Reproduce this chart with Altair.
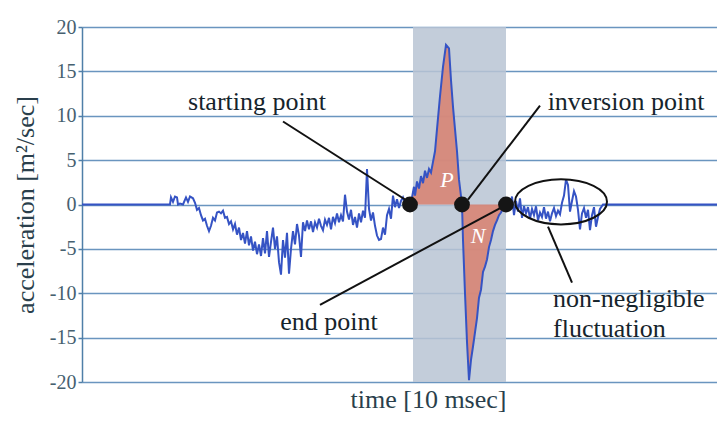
import altair as alt
import pandas as pd

# ---- data (time index, acceleration m2/sec) ----
time_idx = [82, 170, 171, 173, 175, 177, 178, 180, 183, 186, 188, 190, 193, 195, 197, 199,
            201, 203, 205, 207, 209, 211, 213, 215, 217, 219, 221, 223, 225, 227, 229, 231,
            233, 235, 237, 239, 241, 243, 245, 247, 249, 251, 253, 255, 257, 259, 261, 263,
            265, 267, 269, 271, 273, 275, 277, 279, 281, 283, 285, 287, 289, 291, 293, 295,
            297, 299, 301, 303, 305, 307, 309, 311, 313, 315, 317, 319, 321, 323, 325, 327,
            329, 331, 333, 335, 337, 339, 341, 343, 345, 347, 349, 351, 353, 355, 357, 359,
            361, 363, 365, 367, 369, 371, 373, 375, 377, 379, 381, 383, 385, 387, 389, 391,
            393, 395, 397, 399, 401, 403, 405, 407, 410,
            412, 414, 415, 417, 419, 421, 423, 425, 427, 429, 431, 433, 435, 437, 440, 443,
            446, 449, 451, 453, 455, 457, 459, 462,
            463, 465, 467, 469, 471, 473, 475, 477, 479, 481, 483, 485, 487, 489, 491, 493,
            495, 497, 499, 501, 503, 506,
            508, 510, 512, 514, 516, 518, 520, 522, 524, 526, 528, 530, 532, 534, 536, 538,
            540, 542, 544, 546, 548, 550, 552, 554, 556, 558, 560, 562, 564, 566, 568, 570,
            572, 574, 576, 578, 580, 582, 584, 586, 588, 590, 592, 594, 596, 598, 600, 603, 717]
accel = [0, 0, 0.8, 0.3, 0.9, 0.8, 0.0, 0.1, 0.0, 0.8, 0.3, 0.9, 0.7, 0.2, -0.6, -0.4,
         -1.2, -1.8, -1.6, -2.4, -3.0, -2.4, -1.5, -1.8, -0.9, -0.8, -1.0, -0.7, -1.5, -1.4, -2.2, -1.9,
         -2.8, -2.2, -3.4, -2.6, -4.0, -3.2, -4.4, -3.0, -4.6, -3.6, -5.2, -4.2, -5.6, -4.5, -5.8, -3.8,
         -5.5, -3.0, -5.9, -4.2, -2.6, -5.0, -3.6, -6.5, -7.9, -4.0, -6.0, -3.2, -7.8, -5.0, -3.0, -4.5,
         -2.2, -3.5, -5.9, -2.0, -3.0, -1.8, -2.8, -1.9, -3.1, -2.0, -2.6, -1.6, -2.4, -2.9, -1.7, -2.3,
         -1.5, -2.8, -1.4, -2.1, -1.0, -2.0, -1.2, -1.9, 1.1, -0.8, -1.7, -0.6, -2.3, -1.4, -2.6, -1.0,
         -2.0, -0.7, -1.5, 4.0, -0.5, -1.8, -0.9, -2.4, -3.5, -4.0, -3.9, -2.6, -3.4, -1.2, -0.5, -1.6,
         1.0, -0.3, 0.6, -0.4, 0.4, 0.8, 0.2, 0.5, 0.0,
         0.8, 2.0, 1.0, 2.6, 1.8, 3.2, 2.4, 3.8, 3.0, 4.0, 3.6, 4.8, 6.0, 8.5, 12.2, 15.5,
         18.0, 17.6, 14.0, 11.0, 8.5, 6.0, 2.8, 0.0,
         -4.0, -10.0, -15.5, -19.8, -17.5, -16.0, -14.4, -12.8, -10.5, -9.6, -7.6, -7.0, -6.2, -4.8, -4.0, -3.0,
         -2.3, -1.8, -1.2, -0.9, -0.4, 0.0,
         0.5, -0.6, 0.9, -1.2, 0.4, -0.8, 0.7, -1.5, -0.2, -1.0, -0.3, -1.6, -0.5, -1.2, -0.2, -1.8,
         -0.9, -1.4, -0.3, -1.6, -0.8, -1.9, -1.0, -0.4, -1.3, -0.7, -1.1, 0.2, 1.0, 2.8, 2.2, -0.8,
         0.4, 1.5, 0.9, -0.6, -2.8, -1.0, -0.4, -1.5, -0.6, -2.9, -1.2, -0.3, -2.5, -1.4, -0.5, 0.0, 0.0]

# key points: starting, inversion, end
key_t = [410, 462, 506]
key_a = [0, 0, 0]

# shaded analysis window
window_t = [413, 506]

y_ticks = [-20, -15, -10, -5, 0, 5, 10, 15, 20]

# annotation leader lines (from, to)
lead_t1 = [283, 540, 320, 548]
lead_a1 = [9.35, 11.15, -11.3, -2.5]
lead_t2 = [405, 468, 503, 572]
lead_a2 = [0.56, 0.56, -0.23, -8.8]

# annotation texts
lab_text = ["starting point", "inversion point", "end point"]
lab_t = [257, 626, 329]
lab_a = [11.5, 11.6, -13.2]
lab2_text = ["non-negligible", "fluctuation"]
lab2_t = [553, 553]
lab2_a = [-10.7, -14.0]
area_text = ["P", "N"]
area_t = [447, 478]
area_a = [2.8, -3.5]

# ellipse around fluctuation
ell_t = [561]
ell_a = [0.3]

# ---- build ----
df = pd.DataFrame({"t": time_idx, "a": accel})
xs = alt.Scale(domain=[82, 717], nice=False, zero=False)
ys = alt.Scale(domain=[-20, 20], nice=False)
FONT = "Liberation Serif"
TXT = "#16242c"

x_enc = alt.X("t:Q", scale=xs,
              axis=alt.Axis(labels=False, ticks=False, domain=False, grid=False,
                            title="time [10 msec]", titleFont=FONT, titleFontSize=26,
                            titleFontWeight="normal", titleColor="#2a3f4c", titlePadding=4,
                            titleX=346))
y_enc = alt.Y("a:Q", scale=ys,
              axis=alt.Axis(values=y_ticks, labelExpr="'' + datum.value", grid=True,
                            gridColor="#6a95bf", gridWidth=1.5, domainColor="#4f7fa8",
                            domainWidth=1.5, tickColor="#4f7fa8", tickSize=4, tickWidth=1.5,
                            labelFont=FONT, labelFontSize=20, labelColor="#46606f",
                            labelPadding=2, title="acceleration [m²/sec]", titleFont=FONT,
                            titleFontSize=26, titleFontWeight="normal", titleColor="#2a3f4c",
                            titlePadding=11))

window = alt.Chart(pd.DataFrame({"t": [window_t[0]], "t2": [window_t[1]],
                                 "a": [-20], "a2": [20]})).mark_rect(
    color="#b9c4d3", opacity=0.85).encode(x=x_enc, x2="t2:Q", y=y_enc, y2="a2:Q")

area_p = alt.Chart(df).transform_filter(
    (alt.datum.t >= key_t[0]) & (alt.datum.t <= key_t[1])).mark_area(
    color="#d9806e", opacity=0.85).encode(x="t:Q", y="a:Q", y2=alt.datum(0))
area_n = alt.Chart(df).transform_filter(
    (alt.datum.t >= key_t[1]) & (alt.datum.t <= key_t[2])).mark_area(
    color="#d9806e", opacity=0.85).encode(x="t:Q", y="a:Q", y2=alt.datum(0))

line = alt.Chart(df).mark_line(color="#3553c4", strokeWidth=2).encode(x="t:Q", y="a:Q")

leads = alt.Chart(pd.DataFrame({"t": lead_t1, "a": lead_a1, "t2": lead_t2, "a2": lead_a2})).mark_rule(
    color="#111111", strokeWidth=2).encode(x="t:Q", y="a:Q", x2="t2:Q", y2="a2:Q")

dots = alt.Chart(pd.DataFrame({"t": key_t, "a": key_a})).mark_circle(
    color="#151515", size=250, opacity=1).encode(x="t:Q", y="a:Q")

ELL = ("M -1 0 C -1 -0.27 -0.552 -0.49 0 -0.49 C 0.552 -0.49 1 -0.27 1 0 "
       "C 1 0.27 0.552 0.49 0 0.49 C -0.552 0.49 -1 0.27 -1 0 Z")
ellipse = alt.Chart(pd.DataFrame({"t": ell_t, "a": ell_a})).mark_point(
    shape=ELL, size=8464, filled=False, color="#111111", strokeWidth=2, opacity=1).encode(
    x="t:Q", y="a:Q")

labels_c = alt.Chart(pd.DataFrame({"txt": lab_text, "t": lab_t, "a": lab_a})).mark_text(
    font=FONT, fontSize=26, color=TXT, align="center", baseline="middle").encode(
    x="t:Q", y="a:Q", text="txt:N")
labels_l = alt.Chart(pd.DataFrame({"txt": lab2_text, "t": lab2_t, "a": lab2_a})).mark_text(
    font=FONT, fontSize=26, color=TXT, align="left", baseline="middle").encode(
    x="t:Q", y="a:Q", text="txt:N")
labels_pn = alt.Chart(pd.DataFrame({"txt": area_text, "t": area_t, "a": area_a})).mark_text(
    font=FONT, fontSize=22, fontStyle="italic", color="white", align="center",
    baseline="middle").encode(x="t:Q", y="a:Q", text="txt:N")

chart = alt.layer(window, area_p, area_n, line, leads, dots, ellipse,
                  labels_c, labels_l, labels_pn).properties(
    width=635, height=355,
    autosize=alt.AutoSizeParams(type="none"),
    padding={"left": 82, "top": 27, "right": 0, "bottom": 42},
    background="white",
).configure_view(stroke=None).configure_text(font=FONT).configure(font=FONT)

chart.save("out.html", embed_options={"renderer": "svg", "actions": False})
